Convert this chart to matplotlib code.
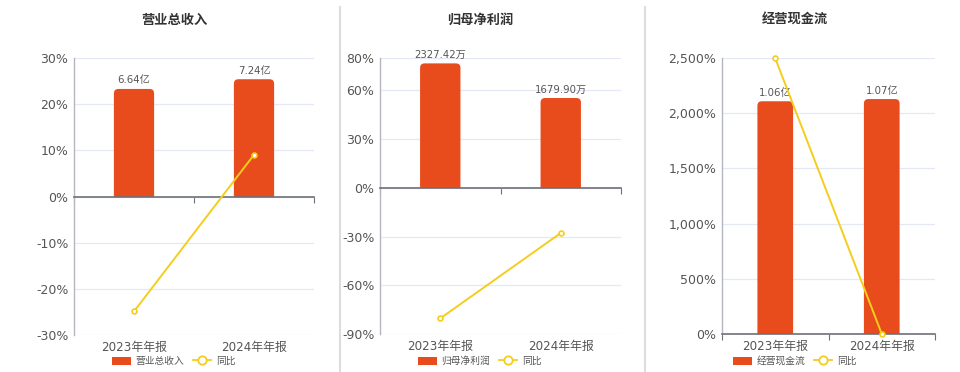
import numpy as np
import matplotlib.pyplot as plt
from matplotlib.lines import Line2D
from matplotlib.patches import Patch, FancyBboxPatch, Rectangle
from matplotlib.ticker import FuncFormatter

plt.rcParams['font.family'] = ['DejaVu Sans', 'Noto Sans CJK SC']

# ==============================================================================
# DATOS
# ==============================================================================
categories = ['2023年年报', '2024年年报']

titles = ['营业总收入', '归母净利润', '经营现金流']

revenue = [6.64, 7.24]              # 亿
revenue_labels = ['6.64亿', '7.24亿']
revenue_yoy = [-24.9, 9.04]          # %

profit = [2327.42, 1679.90]          # 万
profit_labels = ['2327.42万', '1679.90万']
profit_yoy = [-80.4, -27.8]          # %

cashflow = [1.06, 1.07]              # 亿
cashflow_labels = ['1.06亿', '1.07亿']
cashflow_yoy = [2497.0, 0.94]        # %

pct_ticks_1 = [-30, -20, -10, 0, 10, 20, 30]
pct_ticks_2 = [-90, -60, -30, 0, 30, 60, 80]
pct_ticks_3 = [0, 500, 1000, 1500, 2000, 2500]

# ==============================================================================
# ESTILO
# ==============================================================================
W, H = 960, 372
BAR_C = '#e84c1c'
LINE_C = '#f5cd1c'
GRID_C = '#e4e8f4'
TXT_C = '#555555'
RADIUS_PX = 4.5

# (left, right, top, bottom) en px, limite del eje de barras, centro de titulo
panels = [
    dict(box=(74, 314, 58, 335), bars=revenue, blabels=revenue_labels,
         yoy=revenue_yoy, ticks=pct_ticks_1, bar_max=8.55, cx=174),
    dict(box=(380, 621, 58, 334), bars=profit, blabels=profit_labels,
         yoy=profit_yoy, ticks=pct_ticks_2, bar_max=2428.0, cx=480),
    dict(box=(722, 935, 58, 334), bars=cashflow, blabels=cashflow_labels,
         yoy=cashflow_yoy, ticks=pct_ticks_3, bar_max=1.257, cx=795),
]

fig = plt.figure(figsize=(W / 100, H / 100), dpi=100)
x = np.arange(len(categories))

for p, title in zip(panels, titles):
    l, r, t, b = p['box']
    ax = fig.add_axes([l / W, 1 - b / H, (r - l) / W, (b - t) / H])
    ax2 = ax.twinx()
    ax2.axis('off')

    lo, hi = p['ticks'][0], p['ticks'][-1]
    ax.set_ylim(lo, hi)
    ax.set_xlim(-0.5, len(categories) - 0.5)
    y2lo, y2hi = p['bar_max'] * lo / hi, p['bar_max']
    ax2.set_ylim(y2lo, y2hi)

    # rejilla
    ax.set_yticks(p['ticks'])
    ax.yaxis.set_major_formatter(FuncFormatter(lambda v, _: f'{v:,.0f}%'))
    ax.grid(axis='y', color=GRID_C, linewidth=0.9)
    ax.set_axisbelow(True)
    ax.tick_params(axis='y', length=0, labelsize=9, labelcolor=TXT_C, pad=4)

    # barras (escala oculta del eje gemelo), esquinas superiores redondeadas
    xu_px = len(categories) / (r - l)
    yu_px = (y2hi - y2lo) / (b - t)
    clip = Rectangle((-0.5, 0), len(categories), y2hi,
                     transform=ax2.transData)
    bars = ax.bar(x, p['bars'], width=0.335, color=BAR_C,
                  transform=ax2.transData, zorder=2)
    for rect in bars:
        rx, ry = rect.get_x(), rect.get_y()
        rw, rh = rect.get_width(), rect.get_height()
        ext = 2 * RADIUS_PX * yu_px
        fb = FancyBboxPatch(
            (rx, ry - ext), rw, rh + ext,
            boxstyle=f'round,pad=0,rounding_size={RADIUS_PX * xu_px}',
            mutation_aspect=yu_px / xu_px, facecolor=BAR_C, edgecolor='none',
            transform=ax2.transData, zorder=2)
        ax.add_patch(fb)
        fb.set_clip_path(clip)
        rect.set_visible(False)
    for xi, v, lab in zip(x, p['bars'], p['blabels']):
        ax.annotate(lab, (xi, v), xycoords=ax2.transData,
                    xytext=(0, 2.5), textcoords='offset points',
                    ha='center', va='bottom', fontsize=7.3, color=TXT_C)

    # linea de variacion
    ax.plot(x, p['yoy'], color=LINE_C, linewidth=1.4, marker='o',
            markersize=3.5, markerfacecolor='white', markeredgecolor=LINE_C,
            markeredgewidth=1.2, zorder=4, clip_on=False)

    # ejes
    for s in ['top', 'right']:
        ax.spines[s].set_visible(False)
    ax.spines['left'].set_color('#b4b6c0')
    ax.spines['left'].set_linewidth(1.0)
    ax.spines['bottom'].set_position(('data', 0))
    ax.spines['bottom'].set_color('#6e7079')
    ax.spines['bottom'].set_linewidth(1.2)
    ax.spines['bottom'].set_zorder(3)
    ax.set_xticks(np.arange(-0.5, len(categories), 1.0))
    ax.set_xticklabels([])
    ax.tick_params(axis='x', length=4, color='#6e7079', direction='out')
    for xi, cat in zip(x, categories):
        ax.annotate(cat, (xi, 0), xycoords=('data', 'axes fraction'),
                    xytext=(0, -9), textcoords='offset points',
                    ha='center', va='center', fontsize=8.6, color=TXT_C)

    fig.text(p['cx'] / W, 1 - 20 / H, title, ha='center', va='center',
             fontsize=9.5, fontweight='bold', color='#333333',
             family=['Noto Sans CJK SC', 'DejaVu Sans'])

    handles = [Patch(facecolor=BAR_C, edgecolor='none'),
               Line2D([], [], color=LINE_C, linewidth=1.3, marker='o',
                      markersize=6, markerfacecolor='white',
                      markeredgecolor=LINE_C, markeredgewidth=1.3)]
    fig.legend(handles, [title, '同比'], loc='center',
               bbox_to_anchor=(p['cx'] / W, 1 - 361 / H), ncol=2,
               frameon=False, fontsize=7, labelcolor=TXT_C,
               handlelength=1.9, handleheight=0.9, handletextpad=0.5,
               columnspacing=0.9, borderpad=0, borderaxespad=0)

# separadores entre paneles
for xs in [340, 645]:
    fig.add_artist(Line2D([xs / W, xs / W], [0, 1 - 7 / H],
                          color='#dddddd', linewidth=1.5))

plt.savefig('out.png', dpi=100)
plt.close()
